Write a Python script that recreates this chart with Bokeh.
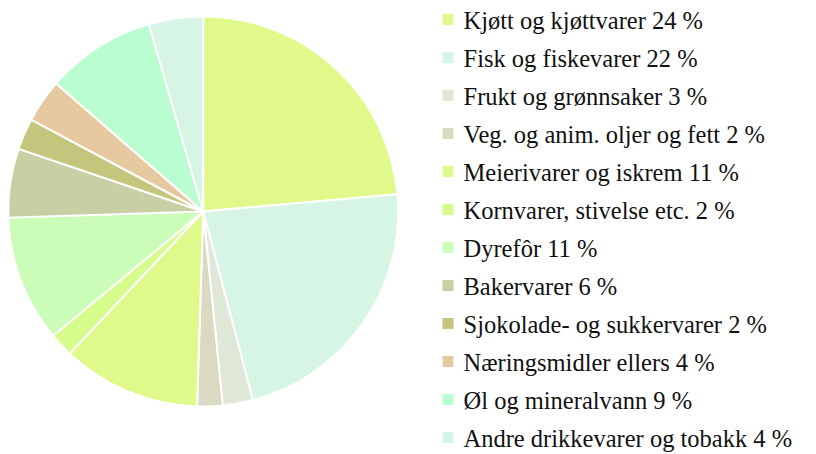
import math
from bokeh.plotting import figure
from bokeh.models import ColumnDataSource, Range1d
from bokeh.core.properties import value
from bokeh.embed import file_html
from bokeh.resources import INLINE

categories = ["Kjøtt og kjøttvarer", "Fisk og fiskevarer", "Frukt og grønnsaker",
              "Veg. og anim. oljer og fett", "Meierivarer og iskrem", "Kornvarer, stivelse etc.",
              "Dyrefôr", "Bakervarer", "Sjokolade- og sukkervarer", "Næringsmidler ellers",
              "Øl og mineralvann", "Andre drikkevarer og tobakk"]
shares = [23.6, 22.3, 2.5, 2.1, 11.5, 2.0, 10.5, 5.7, 2.6, 3.6, 9.1, 4.5]
label_pct = ["24 %", "22 %", "3 %", "2 %", "11 %", "2 %", "11 %", "6 %", "2 %", "4 %", "9 %", "4 %"]
colors = ["#e0f98a", "#d7f5e4", "#dfe7d7", "#dad9c2", "#dff98a", "#d6fd8c",
          "#ccfdb8", "#c9cfa5", "#c4c67e", "#e6c9a0", "#bafdd0", "#d7f5e4"]

W, H = 816, 454
p = figure(width=W, height=H, output_backend="svg", toolbar_location=None,
           x_range=Range1d(0, W), y_range=Range1d(0, H), min_border=0)
p.axis.visible = False
p.grid.visible = False
p.outline_line_color = None

total = sum(shares)
starts, ends = [], []
cum = 0.0
for s in shares:
    starts.append(math.pi / 2 - 2 * math.pi * cum / total)
    cum += s
    ends.append(math.pi / 2 - 2 * math.pi * cum / total)

src = ColumnDataSource(dict(start=starts, end=ends, color=colors))
cx, cy, r = 202.7, H - 211.0, 195.0
p.wedge(x=cx, y=cy, radius=r, start_angle="start", end_angle="end", direction="clock",
        fill_color="color", line_color="white", line_width=2, source=src)

n = len(categories)
row_y = [H - (19.0 + 38.0 * i) for i in range(n)]
mid_y = [H - (19.6 + 38.0 * i) for i in range(n)]
texts = [f"{c} {l}" for c, l in zip(categories, label_pct)]
leg = ColumnDataSource(dict(y=row_y, ym=mid_y, color=colors, text=texts))
p.rect(x=447.5, y="y", width=11, height=11, fill_color="color", line_color=None, source=leg)
p.text(x=463, y="ym", text="text", source=leg, text_font=value("Liberation Serif"),
       text_font_size="24.5px", text_baseline="middle", text_color="#111111")

open("out.html", "w").write(file_html(p, INLINE))
